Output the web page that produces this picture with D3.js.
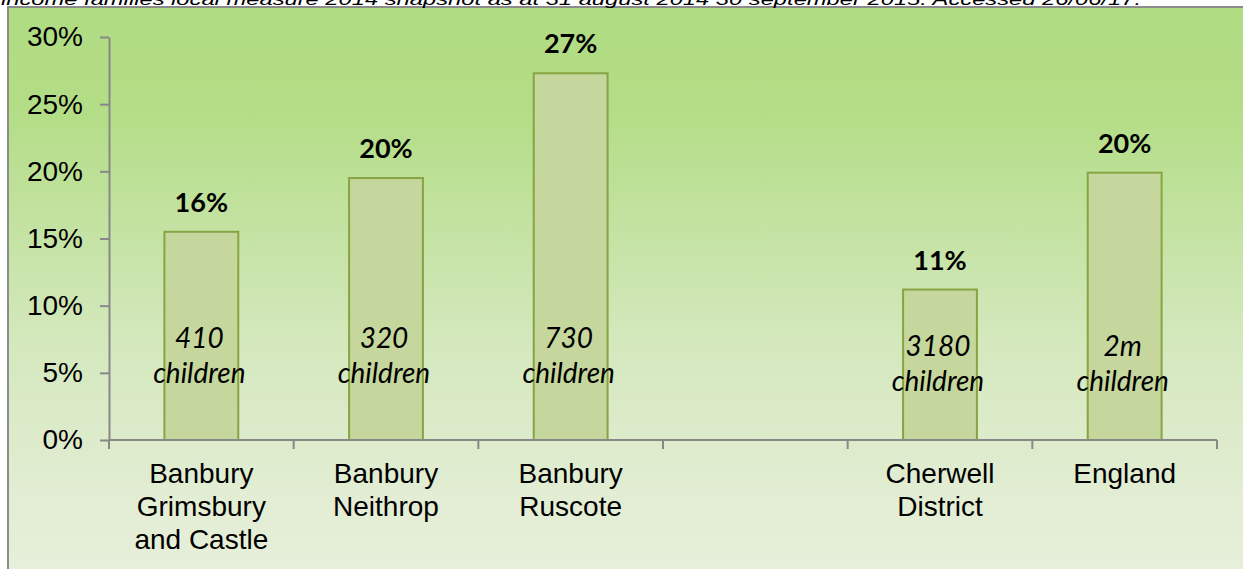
<!DOCTYPE html>
<html>
<head>
<meta charset="utf-8">
<script src="https://cdn.jsdelivr.net/npm/d3@7"></script>
<style>
  html, body { margin: 0; padding: 0; background: #fff; overflow: hidden; }
  svg { display: block; }
</style>
</head>
<body>
<svg id="chart"></svg>
<script>
// data
const categories = ['Banbury Grimsbury and Castle', 'Banbury Neithrop', 'Banbury Ruscote', '', 'Cherwell District', 'England'];
const categoryLines = [['Banbury', 'Grimsbury', 'and Castle'], ['Banbury', 'Neithrop'], ['Banbury', 'Ruscote'], [], ['Cherwell', 'District'], ['England']];
const values = [15.5, 19.5, 27.3, null, 11.2, 19.9];
const valueLabels = ['16%', '20%', '27%', '', '11%', '20%'];
const childLabels = [['410', 'children'], ['320', 'children'], ['730', 'children'], [], ['3180', 'children'], ['2m', 'children']];
const yTicks = [0, 5, 10, 15, 20, 25, 30];
const sourceNote = 'income families local measure 2014 snapshot as at 31 august 2014 30 september 2015. Accessed 26/06/17.';

const W = 1243, H = 569;
const margin = { top: 37, right: 26, bottom: 129, left: 109 };

const svg = d3.select('#chart')
  .attr('width', W)
  .attr('height', H);

// background gradient
const grad = svg.append('defs').append('linearGradient')
  .attr('id', 'bg')
  .attr('x1', 0).attr('y1', 0).attr('x2', 0).attr('y2', 1);
grad.append('stop').attr('offset', '0%').attr('stop-color', '#b0dc82');
grad.append('stop').attr('offset', '17%').attr('stop-color', '#b3dd86');
grad.append('stop').attr('offset', '55%').attr('stop-color', '#d4e8bd');
grad.append('stop').attr('offset', '80%').attr('stop-color', '#e2edd3');
grad.append('stop').attr('offset', '100%').attr('stop-color', '#e9f1de');

svg.append('rect')
  .attr('x', 8).attr('y', 7)
  .attr('width', W + 40).attr('height', H + 40)
  .attr('fill', 'url(#bg)')
  .attr('stroke', '#8c8c8c')
  .attr('stroke-width', 2);

// cut-off source line above the frame
svg.append('text')
  .attr('x', 1)
  .attr('y', 5)
  .attr('font-family', 'Liberation Sans, Arial, sans-serif')
  .attr('font-style', 'italic')
  .attr('font-size', 17)
  .attr('textLength', 1140)
  .attr('lengthAdjust', 'spacingAndGlyphs')
  .text(sourceNote);

const plotW = W - margin.left - margin.right;
const plotH = H - margin.top - margin.bottom;

const chart = svg.append('g')
  .attr('transform', `translate(${margin.left}, ${margin.top})`);

const x = d3.scaleBand()
  .domain(d3.range(categories.length))
  .range([0, plotW])
  .paddingInner(0.6)
  .paddingOuter(0.3);

const y = d3.scaleLinear()
  .domain([0, 30])
  .range([plotH, 0]);

const step = x.step();

// bars
chart.selectAll('.bar')
  .data(values.map((v, i) => ({ v, i })).filter(d => d.v != null))
  .enter().append('rect')
  .attr('class', 'bar')
  .attr('x', d => x(d.i))
  .attr('y', d => y(d.v))
  .attr('width', x.bandwidth())
  .attr('height', d => y(0) - y(d.v))
  .attr('fill', '#c5d79c')
  .attr('stroke', '#87a443')
  .attr('stroke-width', 2);

// y axis
const yAxis = chart.append('g')
  .call(d3.axisLeft(y).tickValues(yTicks).tickFormat(d => d + '%').tickSize(9).tickSizeOuter(0).tickPadding(17));
yAxis.select('.domain').attr('stroke', '#888').attr('stroke-width', 2);
yAxis.selectAll('.tick line').attr('stroke', '#888').attr('stroke-width', 2);
yAxis.selectAll('.tick text')
  .attr('font-family', 'Liberation Sans, Arial, sans-serif')
  .attr('font-size', 28)
  .attr('fill', '#000');

// x axis: ticks sit between categories
const xAxis = chart.append('g')
  .attr('transform', `translate(0, ${plotH})`);
xAxis.append('line')
  .attr('x1', 0).attr('x2', plotW)
  .attr('stroke', '#888').attr('stroke-width', 2);
xAxis.selectAll('.xtick')
  .data(d3.range(categories.length + 1))
  .enter().append('line')
  .attr('x1', d => d * step).attr('x2', d => d * step)
  .attr('y1', 0).attr('y2', 9)
  .attr('stroke', '#888').attr('stroke-width', 2);

const catText = xAxis.selectAll('.cat')
  .data(categoryLines)
  .enter().append('text')
  .attr('class', 'cat')
  .attr('text-anchor', 'middle')
  .attr('font-family', 'Liberation Sans, Arial, sans-serif')
  .attr('font-size', 28)
  .attr('fill', '#000')
  .attr('transform', (d, i) => `translate(${x(i) + x.bandwidth() / 2}, 43)`);
catText.selectAll('tspan')
  .data(d => d)
  .enter().append('tspan')
  .attr('x', 0)
  .attr('y', (d, j) => j * 33)
  .text(d => d);

// value labels above bars
chart.selectAll('.vlabel')
  .data(values.map((v, i) => ({ v, i })).filter(d => d.v != null))
  .enter().append('text')
  .attr('class', 'vlabel')
  .attr('x', d => x(d.i) + x.bandwidth() / 2)
  .attr('y', d => y(d.v) - 20)
  .attr('text-anchor', 'middle')
  .attr('font-family', 'Lato, sans-serif')
  .attr('font-weight', 'bold')
  .attr('font-size', 27)
  .text(d => valueLabels[d.i]);

// children counts inside bars
const innerNudge = [0, 0, 0, 0, 8, 8];
const inner = chart.selectAll('.clabel')
  .data(childLabels.map((lines, i) => ({ lines, i })).filter(d => d.lines.length))
  .enter().append('text')
  .attr('class', 'clabel')
  .attr('text-anchor', 'middle')
  .attr('font-family', 'Lato, sans-serif')
  .attr('font-style', 'italic')
  .attr('font-size', 28)
  .attr('transform', d => `translate(${x(d.i) + x.bandwidth() / 2 - 2}, ${y(0) - 92 + innerNudge[d.i]})`);
inner.selectAll('tspan')
  .data(d => d.lines)
  .enter().append('tspan')
  .attr('x', 0)
  .attr('y', (d, j) => j * 35)
  .text(d => d);
</script>
</body>
</html>
